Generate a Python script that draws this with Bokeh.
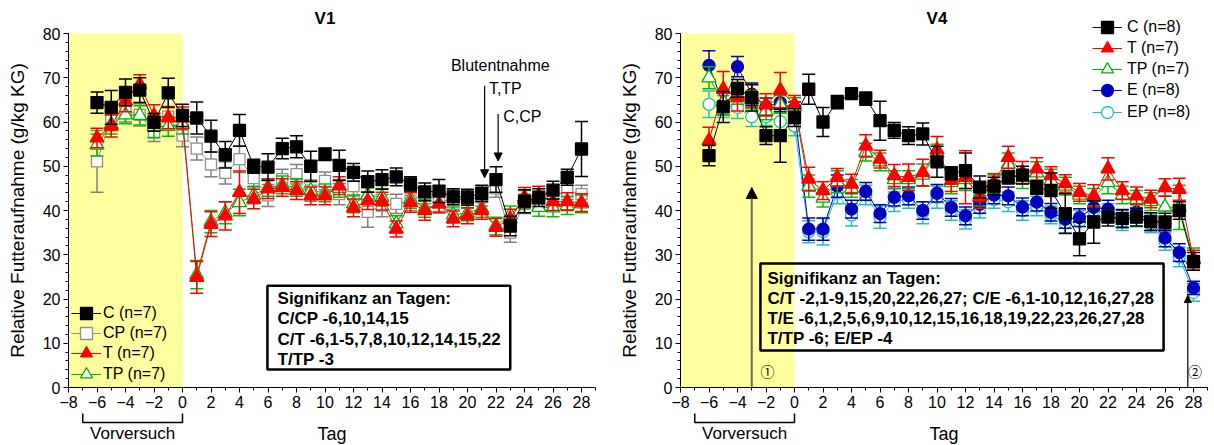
from bokeh.plotting import figure
from bokeh.layouts import row
from bokeh.models import (Range1d, SingleIntervalTicker, BoxAnnotation, Label, Arrow,
                          NormalHead, Legend, LegendItem)
from bokeh.embed import file_html
from bokeh.resources import INLINE

# ---------------- data ----------------
days = list(range(-6, 29))

# V1
v1_C = [64.4, 63.3, 66.7, 67.2, 59.9, 66.6, 61.5, 60.9, 56.8, 52.6, 58.1, 50.0, 49.8, 54.0, 54.4,
        50.0, 52.7, 50.2, 48.6, 46.5, 47.0, 47.6, 46.0, 44.2, 44.4, 43.1, 43.0, 43.9, 47.0, 36.5,
        42.1, 42.9, 44.6, 47.5, 53.9]
v1_C_err = [2.4, 3.8, 3.0, 2.8, 2.0, 3.3, 2.5, 3.6, 3.6, 3.0, 3.6, 1.6, 3.0, 2.3, 2.5, 3.4, 1.4, 3.4,
            2.0, 2.4, 2.2, 2.0, 1.6, 2.0, 2.6, 1.8, 1.8, 1.8, 2.9, 2.2, 2.6, 2.0, 2.0, 1.8, 6.2]
v1_CP = [51.1, 61.0, 62.5, 61.6, 57.6, 61.2, 56.9, 54.0, 50.4, 48.5, 51.6, 47.3, 43.4, 47.1, 48.2,
         44.5, 46.7, 43.7, 45.5, 39.7, 41.1, 41.5, 42.2, 43.5, 42.0, 42.5, 42.5, 43.0, 45.0, 35.0,
         41.5, 42.5, 43.0, 44.5, 43.7]
v1_CP_err = [7.0, 3.0, 2.5, 2.5, 2.0, 2.2, 2.5, 2.6, 2.8, 2.5, 3.0, 2.0, 2.5, 2.2, 2.2, 2.4, 2.0, 2.4,
             2.2, 3.5, 2.5, 2.2, 2.2, 2.0, 2.2, 2.2, 2.0, 2.0, 2.0, 2.2, 2.2, 2.0, 2.0, 2.0, 2.0]
v1_T = [56.4, 59.1, 64.8, 68.5, 61.4, 61.0, 60.9, 24.9, 36.9, 38.8, 44.1, 42.6, 44.9, 45.2, 44.5,
        43.3, 43.3, 45.6, 40.6, 42.2, 42.1, 35.8, 41.8, 40.0, 41.5, 38.1, 38.8, 40.0, 36.2, 38.1,
        43.0, 43.5, 42.0, 42.0, 41.8]
v1_T_err = [2.2, 2.5, 2.5, 2.2, 2.5, 2.5, 2.5, 3.6, 2.8, 3.2, 4.8, 2.2, 2.2, 2.0, 2.0, 2.0, 2.0, 2.0,
            2.0, 2.0, 2.0, 1.8, 2.2, 2.2, 2.0, 1.8, 1.8, 2.0, 2.0, 2.2, 2.2, 2.0, 2.0, 2.0, 2.0]
v1_TP = [54.8, 59.5, 61.6, 61.5, 59.0, 59.0, 59.5, 25.5, 37.5, 39.5, 41.8, 43.5, 45.2, 45.8, 45.2,
         44.5, 44.0, 45.0, 41.5, 43.5, 43.0, 37.0, 42.5, 40.5, 41.5, 39.0, 39.5, 40.5, 36.5, 39.0,
         42.5, 40.7, 40.6, 41.1, 41.5]
v1_TP_err = [2.5, 2.2, 2.0, 2.2, 2.5, 2.2, 2.2, 3.2, 2.5, 2.5, 3.0, 2.0, 2.0, 2.0, 2.0, 2.0, 2.0, 2.0,
             2.0, 2.0, 2.0, 1.8, 2.0, 2.0, 2.0, 1.8, 1.8, 2.0, 2.0, 2.0, 2.0, 2.0, 2.0, 2.0, 2.0]

# V4
v4_C = [52.4, 63.4, 67.6, 65.5, 56.9, 56.9, 61.0, 67.4, 60.0, 64.5, 66.4, 65.3, 60.3, 58.1, 56.9,
        57.3, 51.0, 48.4, 49.0, 45.3, 45.5, 47.5, 48.0, 45.2, 44.5, 39.3, 33.6, 37.4, 38.5, 38.2,
        38.5, 37.5, 37.4, 40.0, 28.5]
v4_C_err = [2.3, 3.5, 2.0, 3.0, 2.0, 6.0, 2.0, 3.4, 3.3, 1.5, 1.0, 1.5, 4.4, 1.8, 2.0, 2.5, 3.5, 1.5,
            4.0, 2.5, 2.0, 1.5, 2.0, 1.5, 4.0, 4.5, 3.8, 4.8, 2.0, 2.0, 2.0, 2.0, 2.0, 2.0, 2.0]
v4_T = [55.8, 67.4, 65.5, 65.9, 63.9, 67.2, 64.0, 47.1, 44.5, 47.5, 46.0, 54.6, 51.6, 47.9, 47.5,
        48.6, 53.7, 46.8, 47.5, 43.0, 46.3, 52.0, 48.6, 49.4, 47.9, 46.1, 44.1, 43.3, 49.4, 44.5,
        43.3, 42.6, 45.2, 44.8, 29.0]
v4_T_err = [3.0, 4.0, 3.0, 2.5, 2.5, 4.0, 2.0, 2.7, 2.0, 2.0, 2.2, 2.5, 2.0, 2.5, 3.0, 3.0, 3.0, 2.5,
            6.0, 2.5, 2.0, 2.5, 2.5, 2.5, 2.0, 2.0, 2.0, 2.5, 2.5, 2.0, 2.0, 2.0, 2.0, 2.5, 2.0]
v4_TP = [70.0, 64.5, 66.0, 65.0, 62.5, 64.0, 63.5, 45.5, 42.8, 46.5, 45.0, 53.2, 51.0, 47.0, 47.0,
         48.0, 53.0, 46.3, 47.0, 43.5, 46.0, 50.5, 47.0, 48.5, 46.8, 45.5, 43.5, 43.0, 46.3, 43.5,
         42.5, 42.0, 40.8, 40.7, 29.0]
v4_TP_err = [2.5, 3.0, 2.0, 2.0, 2.0, 2.0, 2.0, 2.5, 2.0, 2.5, 2.0, 2.0, 2.0, 2.0, 2.0, 2.5, 2.0, 2.5,
             2.5, 2.5, 2.0, 2.5, 2.0, 2.5, 2.5, 2.0, 2.0, 2.0, 2.5, 2.0, 2.0, 2.0, 2.5, 5.0, 2.5]
v4_E = [72.8, 64.0, 72.5, 66.3, 63.4, 64.4, 62.5, 35.8, 35.8, 45.5, 40.3, 44.3, 39.3, 43.0, 43.3,
        40.0, 43.9, 40.7, 38.8, 41.4, 43.5, 43.3, 40.8, 41.9, 39.6, 38.0, 38.4, 40.7, 40.3, 38.1,
        39.6, 37.5, 33.8, 30.5, 22.5]
v4_E_err = [3.3, 2.5, 2.3, 2.5, 2.0, 2.0, 2.0, 2.5, 2.5, 2.5, 2.0, 2.0, 2.0, 2.0, 2.0, 2.0, 2.0, 2.0,
            2.0, 2.0, 2.0, 2.0, 2.0, 2.0, 2.0, 2.0, 2.0, 2.0, 2.0, 2.0, 2.0, 2.0, 2.0, 2.0, 1.5]
v4_EP = [64.0, 63.5, 63.3, 61.2, 61.2, 60.1, 59.1, 35.2, 35.2, 44.0, 39.0, 43.5, 38.5, 42.0, 42.5,
         39.5, 43.0, 40.0, 38.0, 40.5, 42.5, 42.0, 40.0, 41.0, 39.0, 37.2, 37.5, 40.0, 39.5, 37.5,
         38.5, 37.0, 33.0, 29.5, 21.5]
v4_EP_err = [3.0, 2.5, 2.5, 2.2, 2.0, 2.0, 2.2, 2.5, 3.0, 2.5, 2.5, 2.2, 2.5, 2.2, 2.0, 2.5, 2.5, 2.2,
             2.2, 2.2, 2.0, 2.2, 2.2, 2.2, 2.0, 2.2, 2.5, 2.2, 2.0, 2.0, 2.2, 2.0, 2.0, 2.2, 2.0]

x_ticks_interval = 2
y_ticks_interval = 10
pre_start, pre_end = -8, 0          # yellow pre-trial shading
bracket_start, bracket_end = -7, 0  # "Vorversuch" bracket

sig_v1 = ["Signifikanz an Tagen:", "C/CP -6,10,14,15", "C/T -6,1-5,7,8,10,12,14,15,22", "T/TP -3"]
sig_v4 = ["Signifikanz an Tagen:", "C/T -2,1-9,15,20,22,26,27; C/E -6,1-10,12,16,27,28",
          "T/E -6,1,2,5,6,9,10,12,15,16,18,19,22,23,26,27,28", "T/TP -6; E/EP -4"]

FONT = "Liberation Sans"
PXX = 14.25   # px per day
PXY = 4.425   # px per unit
H = 445


def make_fig(title, width, axis_px):
    x0 = -8 - axis_px / PXX
    x1 = -8 + (width - axis_px) / PXX
    y0 = -(H - 387) / PXY
    y1 = 80 + 33 / PXY
    p = figure(width=width, height=H, x_range=Range1d(x0, x1), y_range=Range1d(y0, y1),
               output_backend="svg", toolbar_location=None, title=None,
               min_border_left=0, min_border_right=0, min_border_top=0, min_border_bottom=0)
    p.xgrid.visible = False
    p.ygrid.visible = False
    p.outline_line_color = None
    p.background_fill_color = "white"
    p.xaxis.ticker = SingleIntervalTicker(interval=x_ticks_interval, num_minor_ticks=2)
    p.yaxis.ticker = SingleIntervalTicker(interval=y_ticks_interval, num_minor_ticks=5)
    p.xaxis.fixed_location = 0
    p.yaxis.fixed_location = -8
    p.xaxis.bounds = (-8, 29)
    p.yaxis.bounds = (0, 80)
    for ax in (p.xaxis[0], p.yaxis[0]):
        ax.major_tick_in = 0
        ax.major_tick_out = 5
        ax.minor_tick_in = 0
        ax.minor_tick_out = 3
        ax.major_label_text_font = FONT
        ax.major_label_text_font_size = "16px"
        ax.major_label_text_color = "black"
        ax.major_label_standoff = 3
        ax.axis_label_text_font = FONT
        ax.axis_label_text_font_style = "normal"
        ax.axis_label_text_color = "black"
        ax.axis_line_color = "black"
        ax.major_tick_line_color = "black"
        ax.minor_tick_line_color = "black"
    p.xaxis.axis_label = "Tag"
    p.xaxis.axis_label_text_font_size = "18px"
    p.xaxis.axis_label_standoff = 13
    p.yaxis.axis_label = "Relative Futteraufnahme (g/kg KG)"
    p.yaxis.axis_label_text_font_size = "19px"
    p.yaxis.axis_label_standoff = 12
    p.add_layout(BoxAnnotation(left=pre_start, right=pre_end, bottom=0, top=80,
                               fill_color="#ffffa0", fill_alpha=1, line_alpha=0,
                               level="underlay"))
    p.add_layout(Label(x=10.0, y=80 + 15 / PXY, text=title, text_align="center",
                       text_baseline="middle", text_font=FONT, text_font_size="17px",
                       text_font_style="bold", text_color="black"))
    # Vorversuch bracket
    p.line([bracket_start, bracket_start, bracket_end, bracket_end], [-5.9, -7.9, -7.9, -5.9],
           line_color="black", line_width=1.5)
    p.add_layout(Label(x=(bracket_start + bracket_end) / 2, y=-10.3, text="Vorversuch",
                       text_align="center", text_baseline="middle", text_font=FONT,
                       text_font_size="17px", text_color="black"))
    return p


def series(p, x, y, err, color, marker, size, fill, err_color, cap=13, lw=1.0):
    lo = [a - b for a, b in zip(y, err)]
    hi = [a + b for a, b in zip(y, err)]
    p.segment(x, lo, x, hi, line_color=err_color, line_width=1.5)
    p.scatter(x, lo, marker="dash", size=cap, line_color=err_color, line_width=1.5)
    p.scatter(x, hi, marker="dash", size=cap, line_color=err_color, line_width=1.5)
    ln = p.line(x, y, line_color=color, line_width=lw)
    mk = p.scatter(x, y, marker=marker, size=size, fill_color=fill, line_color=color,
                   line_width=1.3)
    return [ln, mk]


def sig_box(p, lines, x0, x1, y0, y1, tx, ty0, dy):
    p.add_layout(BoxAnnotation(left=x0, right=x1, bottom=y0, top=y1, fill_alpha=0,
                               line_color="black", line_width=2.5, line_alpha=1))
    for i, t in enumerate(lines):
        p.add_layout(Label(x=tx, y=ty0 - i * dy, text=t, text_font=FONT, text_font_size="17px",
                           text_font_style="bold", text_baseline="middle", text_color="black"))


def legend(p, items, vx, row_centers, standoff):
    # one single-entry legend per row, so that the row pitch can be tighter than the glyph
    for (lab, rends), yc in zip(items, row_centers):
        lg = Legend(items=[LegendItem(label=lab, renderers=rends)],
                    location=(vx, H - (yc + 16)),
                    glyph_width=30, glyph_height=32, spacing=0, label_height=20, padding=0,
                    margin=0, label_standoff=standoff, background_fill_alpha=0,
                    border_line_alpha=0, label_text_font=FONT, label_text_font_size="16px",
                    label_text_color="black")
        p.add_layout(lg)


def txt(p, x, y, t, align="left", font=FONT, size="16px"):
    p.add_layout(Label(x=x, y=y, text=t, text_align=align, text_baseline="middle",
                       text_font=font, text_font_size=size, text_color="black"))


# ---------------- V1 ----------------
p1 = make_fig("V1", 610, 68)
r_cp = series(p1, days, v1_CP, v1_CP_err, "#909090", "square", 11, "white", "#808080")
r_tp = series(p1, days, v1_TP, v1_TP_err, "#00b000", "triangle", 14, "white", "#00c000")
r_t = series(p1, days, v1_T, v1_T_err, "#ff0000", "triangle", 14, "#ff0000", "#ff0000")
r_c = series(p1, days, v1_C, v1_C_err, "black", "square", 12, "black", "black")
legend(p1, [("C (n=7)", r_c), ("CP (n=7)", r_cp), ("T (n=7)", r_t), ("TP (n=7)", r_tp)],
       71, [313, 333, 353, 374], 2)
sig_box(p1, sig_v1, 5.96, 23.0, 4.06, 23.0, 6.67, 20.1, 4.6)
txt(p1, 22.3, 72.7, "Blutentnahme", align="center")
txt(p1, 21.5, 67.5, "T,TP")
txt(p1, 22.5, 61.2, "C,CP")
p1.add_layout(Arrow(x_start=21.2, y_start=68.2, x_end=21.2, y_end=47.4, line_color="black",
                    line_width=1.2, end=NormalHead(size=8, fill_color="black", line_color="black")))
p1.add_layout(Arrow(x_start=22.15, y_start=61.8, x_end=22.15, y_end=51.2, line_color="black",
                    line_width=1.2, end=NormalHead(size=8, fill_color="black", line_color="black")))

# ---------------- V4 ----------------
p4 = make_fig("V4", 604, 70)
p4.add_layout(Arrow(x_start=-3, y_start=0, x_end=-3, y_end=45.2, line_color="#6e6b50",
                    line_width=2, end=NormalHead(size=11, fill_color="black", line_color="black")))
p4.add_layout(Arrow(x_start=27.6, y_start=0, x_end=27.6, y_end=20.8, line_color="black",
                    line_width=1.2, end=NormalHead(size=7, fill_color="black", line_color="black")))
txt(p4, -1.9, 3.8, "①", align="center", font="Noto Sans CJK JP", size="14px")
txt(p4, 28.1, 3.8, "②", align="center", font="Noto Sans CJK JP", size="14px")
q_ep = series(p4, days, v4_EP, v4_EP_err, "#20c0c0", "circle", 12, "white", "#20c0c0")
q_e = series(p4, days, v4_E, v4_E_err, "#0000c0", "circle", 12, "#0000c0", "#0000c0")
q_tp = series(p4, days, v4_TP, v4_TP_err, "#00b000", "triangle", 14, "white", "#00c000")
q_t = series(p4, days, v4_T, v4_T_err, "#ff0000", "triangle", 14, "#ff0000", "#ff0000")
q_c = series(p4, days, v4_C, v4_C_err, "black", "square", 12, "black", "black")
legend(p4, [("C (n=8)", q_c), ("T (n=7)", q_t), ("TP (n=7)", q_tp), ("E (n=8)", q_e),
            ("EP (n=8)", q_ep)], 482, [27, 48, 69, 90, 112], 5)
sig_box(p4, sig_v4, -2.39, 25.9, 8.35, 28.0, -1.9, 24.6, 4.5)

layout = row(p1, p4)
open("out.html", "w").write(file_html(layout, INLINE))
